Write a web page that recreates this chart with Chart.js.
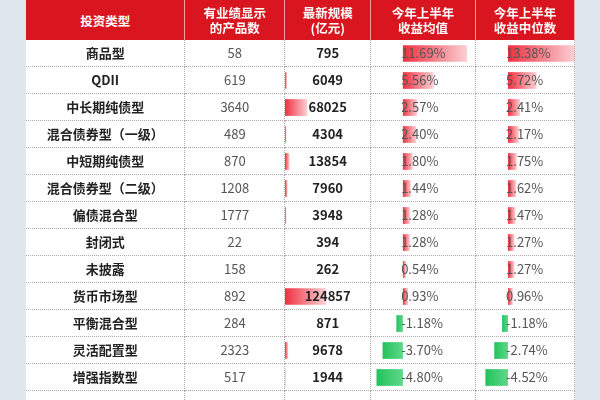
<!DOCTYPE html>
<html><head><meta charset="utf-8">
<script src="https://cdn.jsdelivr.net/npm/chart.js@4"></script>
<style>
body{margin:0;width:600px;height:400px;overflow:hidden;background:#dfe6ee;font-family:"Noto Sans CJK SC","Noto Sans",sans-serif;}
#wrap{position:absolute;left:26px;top:0;width:549px;height:400px;background:#fff;overflow:hidden;}
table{position:absolute;left:0;top:0;border-collapse:collapse;table-layout:fixed;z-index:2;}
td,th{padding:0;text-align:center;font-size:13px;height:26px;line-height:26px;border-bottom:1px dotted #aaa;border-right:1px dotted #aaa;overflow:hidden;white-space:nowrap;}
th{background:#d9161f;color:#fff;font-weight:bold;height:40px;line-height:15px;font-size:12.5px;border-right:1px solid #f0a0a0;border-bottom:none;}
td.c{font-weight:bold;color:#222;font-size:13px;}
td.n{color:#555;}
td.b{font-weight:bold;color:#222;}
td.p{color:#555;text-align:left;}
canvas{position:absolute;}
.cv{position:absolute;top:40px;height:378px;z-index:1;}
</style></head><body>
<div id="wrap">
<div class="cv" style="left:259px;width:87px"><canvas id="c1"></canvas></div>
<div class="cv" style="left:345px;width:105px"><canvas id="c2"></canvas></div>
<div class="cv" style="left:450px;width:99px"><canvas id="c3"></canvas></div>
<table id="t"></table>
</div>
<script>
const headers=["投资类型","有业绩显示<br>的产品数","最新规模<br>(亿元)","今年上半年<br>收益均值","今年上半年<br>收益中位数"];
const categories=["商品型","QDII","中长期纯债型","混合债券型（一级）","中短期纯债型","混合债券型（二级）","偏债混合型","封闭式","未披露","货币市场型","平衡混合型","灵活配置型","增强指数型"];
const productCounts=[58,619,3640,489,870,1208,1777,22,158,892,284,2323,517];
const scale=[795,6049,68025,4304,13854,7960,3948,394,262,124857,871,9678,1944];
const meanReturn=[11.69,5.56,2.57,2.40,1.80,1.44,1.28,1.28,0.54,0.93,-1.18,-3.70,-4.80];
const medianReturn=[13.38,5.72,2.41,2.17,1.75,1.62,1.47,1.27,1.27,0.96,-1.18,-2.74,-4.52];
const widths=[159,100,86,105,99];

const t=document.getElementById('t');
let h='<colgroup>'+widths.map(w=>`<col style="width:${w}px">`).join('')+'</colgroup><tr>'+headers.map(x=>`<th>${x}</th>`).join('')+'</tr>';
const fmt=v=>(v<0?'-':'')+Math.abs(v).toFixed(2)+'%';
categories.forEach((c,i)=>{
  h+=`<tr><td class="c">${c}</td><td class="n">${productCounts[i]}</td><td class="b">${scale[i]}</td><td class="p" style="padding-left:30px">${fmt(meanReturn[i])}</td><td class="p" style="padding-left:30px">${fmt(medianReturn[i])}</td></tr>`;
});
h+='<tr><td></td><td></td><td></td><td></td><td></td></tr>';
t.innerHTML=h;

const rows=categories.concat(['']);
function bg(c){
  const {chart,raw}=c; const a=chart.chartArea; if(!a)return '#f04050';
  const x=chart.scales.x, z=x.getPixelForValue(0), e=x.getPixelForValue(raw||0);
  const g=chart.ctx.createLinearGradient(z,0,e===z?z+1:e,0);
  if(raw<0){g.addColorStop(0,'#5fd88a');g.addColorStop(1,'#22c25c');}
  else{g.addColorStop(0,'#ef3040');g.addColorStop(1,'#fbd0d4');}
  return g;
}
function mk(id,data,min,max){
  new Chart(document.getElementById(id),{type:'bar',
    data:{labels:rows,datasets:[{data:data.concat([null]),backgroundColor:bg,barPercentage:0.62,categoryPercentage:1}]},
    options:{indexAxis:'y',responsive:true,maintainAspectRatio:false,animation:false,
      layout:{padding:0},plugins:{legend:{display:false},tooltip:{enabled:false}},
      scales:{x:{display:false,min,max},y:{display:false}}}});
}
mk('c1',scale,0,265000);
mk('c2',meanReturn,-5.8,13.3);
mk('c3',medianReturn,-6.4,13.4);
</script></body></html>
